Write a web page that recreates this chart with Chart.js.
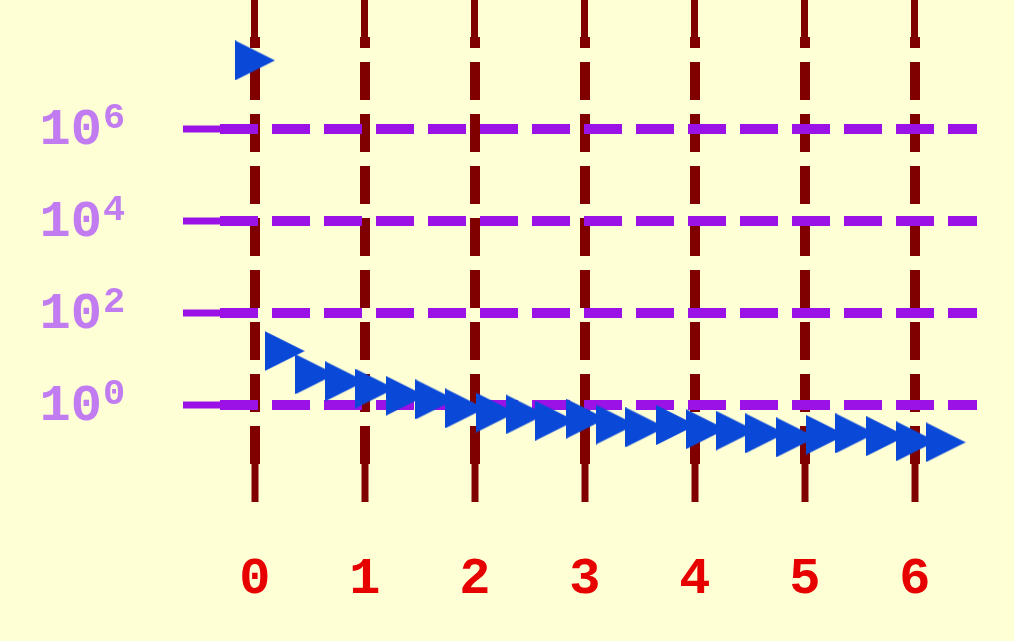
<!DOCTYPE html>
<html>
<head>
<meta charset="utf-8">
<script src="https://cdn.jsdelivr.net/npm/chart.js@4"></script>
<style>
  html, body { margin: 0; padding: 0; background: #ffffd6; }
  #wrap { width: 1014px; height: 641px; }
</style>
</head>
<body>
<div id="wrap"><canvas id="chart"></canvas></div>
<script>
const xValues = [0, 0.27, 0.55, 0.82, 1.09, 1.37, 1.64, 1.91, 2.19, 2.46, 2.73, 3.01,
                 3.28, 3.55, 3.83, 4.10, 4.37, 4.64, 4.92, 5.19, 5.46, 5.74, 6.01, 6.28];
const yValues = [3.1e7, 15, 4.7, 3.3, 2.3, 1.6, 1.33, 0.85, 0.69, 0.63, 0.46, 0.51,
                 0.38, 0.33, 0.37, 0.30, 0.28, 0.244, 0.20, 0.227, 0.244, 0.213, 0.164, 0.156];
const xTicks = [0, 1, 2, 3, 4, 5, 6];
const yTicks = [1, 1e2, 1e4, 1e6];
const yTickExponents = ['0', '2', '4', '6'];
const xRange = [-0.318, 6.565];
const yRange = [0.0527, 1e8];

const PAPER = '#ffffd6';
const MAROON = '#800000';
const VIOLET = '#9a12e6';
const LABEL_FONT = '"Liberation Mono", monospace';

// right-pointing triangle marker, as wide as it is tall
function makeTriangle(size, color) {
  const c = document.createElement('canvas');
  c.width = size;
  c.height = size;
  const g = c.getContext('2d');
  g.fillStyle = color;
  g.beginPath();
  g.moveTo(0, 0);
  g.lineTo(size, size / 2);
  g.lineTo(0, size);
  g.closePath();
  g.fill();
  return c;
}

const paper = {
  id: 'paper',
  beforeDraw(chart) {
    const { ctx, width, height } = chart;
    ctx.save();
    ctx.fillStyle = PAPER;
    ctx.fillRect(0, 0, width, height);
    ctx.restore();
  }
};

// y labels as 10 with a raised exponent
const powerLabels = {
  id: 'powerLabels',
  afterDraw(chart) {
    const scale = chart.scales.y;
    const ctx = chart.ctx;
    ctx.save();
    ctx.fillStyle = '#c07cf0';
    ctx.textBaseline = 'middle';
    yTicks.forEach((v, i) => {
      const py = scale.getPixelForValue(v);
      ctx.font = 'bold 52px ' + LABEL_FONT;
      ctx.textAlign = 'right';
      ctx.fillText('10', 102, py + 2);
      ctx.font = 'bold 37px ' + LABEL_FONT;
      ctx.textAlign = 'left';
      ctx.fillText(yTickExponents[i], 103, py - 10);
    });
    ctx.restore();
  }
};

const setXTicks = s => { s.ticks = xTicks.map(v => ({ value: v })); };

new Chart(document.getElementById('chart'), {
  type: 'scatter',
  data: {
    datasets: [{
      data: xValues.map((x, i) => ({ x, y: yValues[i] })),
      pointStyle: makeTriangle(40, '#0a48d8'),
      pointRadius: 20,
      clip: false
    }]
  },
  options: {
    responsive: true,
    maintainAspectRatio: false,
    animation: false,
    events: [],
    layout: { padding: { left: 0, top: 0, right: 37, bottom: 0 } },
    plugins: { legend: { display: false }, tooltip: { enabled: false } },
    scales: {
      x: {
        type: 'linear',
        position: 'bottom',
        min: xRange[0],
        max: xRange[1],
        bounds: 'data',
        z: 1,
        afterBuildTicks: setXTicks,
        afterFit: s => { s.height = 177; },
        grid: { color: MAROON, lineWidth: 10, tickLength: 38, tickWidth: 7, tickColor: MAROON, tickBorderDash: [] },
        border: { display: false, dash: [38, 14], dashOffset: 27 },
        ticks: {
          color: '#e60000',
          font: { family: LABEL_FONT, size: 52, weight: 'bold' },
          padding: 47,
          maxRotation: 0,
          autoSkip: false
        }
      },
      x2: {
        type: 'linear',
        position: 'top',
        min: xRange[0],
        max: xRange[1],
        bounds: 'data',
        z: 1,
        afterBuildTicks: setXTicks,
        afterFit: s => { s.height = 37; },
        grid: { drawOnChartArea: false, tickLength: 37, tickWidth: 7, tickColor: MAROON, tickBorderDash: [] },
        border: { display: false },
        ticks: { display: false }
      },
      y: {
        type: 'logarithmic',
        min: yRange[0],
        max: yRange[1],
        bounds: 'data',
        z: 2,
        afterBuildTicks: s => { s.ticks = yTicks.map(v => ({ value: v })); },
        afterFit: s => { s.width = 220; },
        grid: { color: VIOLET, lineWidth: 10, tickLength: 37, tickWidth: 7, tickColor: VIOLET, tickBorderDash: [] },
        border: { display: false, dash: [38, 14] },
        ticks: { display: false }
      }
    }
  },
  plugins: [paper, powerLabels]
});
</script>
</body>
</html>
